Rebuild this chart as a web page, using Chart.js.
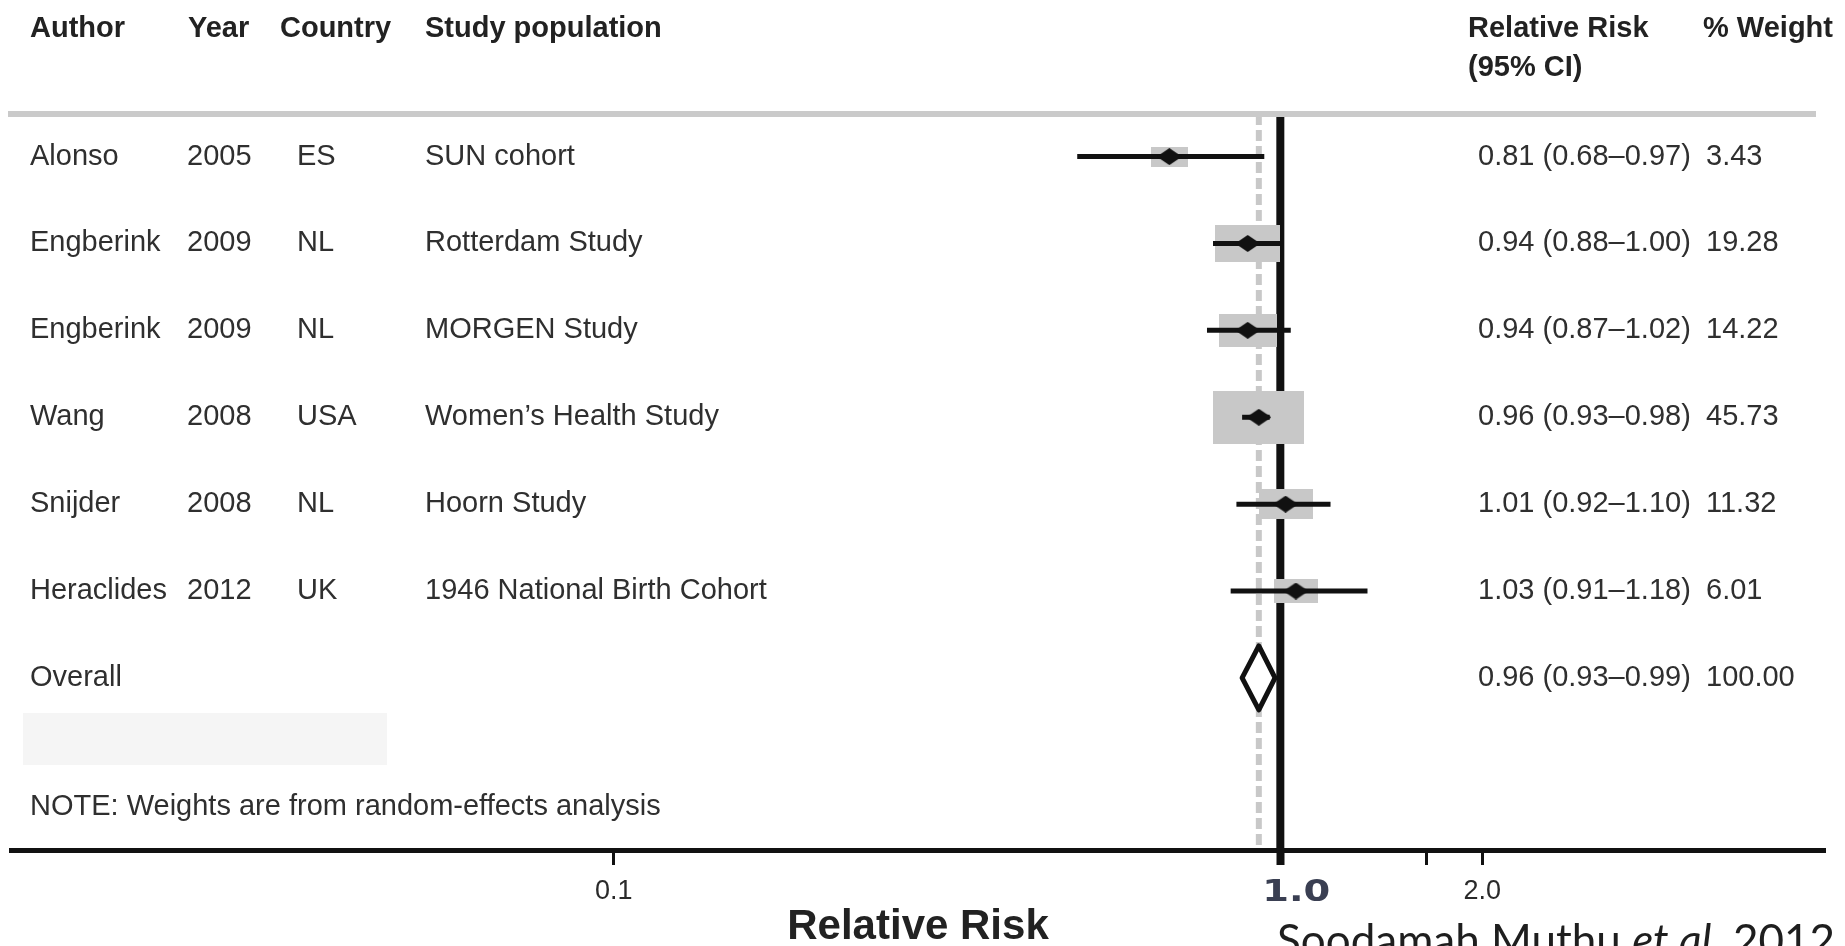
<!DOCTYPE html>
<html>
<head>
<meta charset="utf-8">
<title>Relative risk forest plot</title>
<script src="https://cdn.jsdelivr.net/npm/chart.js@4.4.1/dist/chart.umd.min.js"></script>
<style>
  html, body { margin: 0; padding: 0; background: #fff; overflow: hidden; }
  #wrap { position: relative; width: 1845px; height: 946px; }
</style>
</head>
<body>
<div id="wrap"><canvas id="forest"></canvas></div>
<script>
// ---- study data ----
const authors     = ["Alonso", "Engberink", "Engberink", "Wang", "Snijder", "Heraclides"];
const years       = ["2005", "2009", "2009", "2008", "2008", "2012"];
const countries   = ["ES", "NL", "NL", "USA", "NL", "UK"];
const populations = ["SUN cohort", "Rotterdam Study", "MORGEN Study", "Women\u2019s Health Study", "Hoorn Study", "1946 National Birth Cohort"];
const relRisk     = [0.81, 0.94, 0.94, 0.96, 1.01, 1.03];
const ciLower     = [0.68, 0.88, 0.87, 0.93, 0.92, 0.91];
const ciUpper     = [0.97, 1.00, 1.02, 0.98, 1.10, 1.18];
const weights     = [3.43, 19.28, 14.22, 45.73, 11.32, 6.01];

// pooled estimate
const overallLabel  = "Overall";
const overallRR     = 0.96;
const overallLower  = 0.93;
const overallUpper  = 0.99;
const overallWeight = 100.00;

const nullValue = 1.0;

// x axis ticks as they sit in the figure (labels were edited in the original)
const tickValues = [0.282, 1.0, 1.32, 1.467];
const tickLabels = ["0.1", "1.0", "", "2.0"];

const headers = ["Author", "Year", "Country", "Study population", "Relative Risk", "(95% CI)", "% Weight"];
const noteText = "NOTE: Weights are from random-effects analysis";
const axisTitle = "Relative Risk";
const creditParts = ["Soodamah Muthu ", "et al.", " 2012"];

// ---- helpers ----
const SANS = '"Liberation Sans", Arial, Helvetica, sans-serif';
const NARROW = '"Liberation Sans Narrow", "Liberation Sans", Arial, sans-serif';
const CREDIT = 'Lato, "Open Sans", sans-serif';
const ink = "#2f2f2f";

const rows = relRisk.map((_, i) => i + 1);
const overallRow = rows.length + 1;

function boxImage(w) {
    const s = Math.sqrt(w);
    const bw = Math.round(16.6 + 11 * s);
    const bh = Math.round(8 + 6.6 * s);
    const c = document.createElement("canvas");
    c.width = bw;
    c.height = bh;
    const g = c.getContext("2d");
    g.fillStyle = "#c8c8c8";
    g.fillRect(0, 0, bw, bh);
    return c;
}

function diamondImage(w, h) {
    const c = document.createElement("canvas");
    c.width = w;
    c.height = h;
    const g = c.getContext("2d");
    g.fillStyle = "#111";
    g.beginPath();
    g.moveTo(0, h / 2);
    g.lineTo(w / 2, 0);
    g.lineTo(w, h / 2);
    g.lineTo(w / 2, h);
    g.closePath();
    g.fill();
    return c;
}

const pointMark = diamondImage(25, 17);

// ---- table text, separator and pooled diamond ----
const forestTable = {
    id: "forestTable",
    beforeDatasetsDraw(chart) {
        const { ctx } = chart;
        ctx.save();
        ctx.fillStyle = "#f5f5f5";
        ctx.fillRect(23, 713, 364, 52);
        ctx.restore();
    },
    afterDatasetsDraw(chart) {
        const { ctx, scales: { x, y } } = chart;
        ctx.save();

        // header rule
        ctx.fillStyle = "#cacaca";
        ctx.fillRect(8, 111, 1808, 6);

        // pooled diamond
        const cy = y.getPixelForValue(overallRow);
        const xl = x.getPixelForValue(overallLower);
        const xm = x.getPixelForValue(overallRR);
        const xr = x.getPixelForValue(overallUpper);
        ctx.beginPath();
        ctx.moveTo(xl, cy);
        ctx.lineTo(xm, cy - 32);
        ctx.lineTo(xr, cy);
        ctx.lineTo(xm, cy + 32);
        ctx.closePath();
        ctx.fillStyle = "#fff";
        ctx.fill();
        ctx.lineWidth = 5;
        ctx.lineJoin = "round";
        ctx.strokeStyle = "#111";
        ctx.stroke();

        // headers
        ctx.fillStyle = "#222";
        ctx.textAlign = "left";
        ctx.textBaseline = "middle";
        ctx.font = "bold 29px " + SANS;
        ctx.fillText(headers[0], 30, 29);
        ctx.fillText(headers[1], 188, 29);
        ctx.fillText(headers[2], 280, 29);
        ctx.fillText(headers[3], 425, 29);
        ctx.fillText(headers[4], 1468, 29);
        ctx.fillText(headers[5], 1468, 68);
        ctx.fillText(headers[6], 1703, 29);

        // study rows
        ctx.font = "29px " + SANS;
        ctx.fillStyle = ink;
        rows.forEach((r, i) => {
            const py = y.getPixelForValue(r);
            ctx.fillText(authors[i], 30, py);
            ctx.fillText(years[i], 187, py);
            ctx.fillText(countries[i], 297, py);
            ctx.fillText(populations[i], 425, py);
            ctx.fillText(relRisk[i].toFixed(2) + " (" + ciLower[i].toFixed(2) + "\u2013" + ciUpper[i].toFixed(2) + ")", 1478, py);
            ctx.fillText(weights[i].toFixed(2), 1706, py);
        });
        ctx.fillText(overallLabel, 30, cy);
        ctx.fillText(overallRR.toFixed(2) + " (" + overallLower.toFixed(2) + "\u2013" + overallUpper.toFixed(2) + ")", 1478, cy);
        ctx.fillText(overallWeight.toFixed(2), 1706, cy);

        ctx.fillText(noteText, 30, 807);
        ctx.restore();
    },
    afterDraw(chart) {
        const { ctx, scales: { x } } = chart;
        ctx.save();
        // stamped "1.0" label under the null line
        const k = tickValues.indexOf(nullValue);
        const px = x.getPixelForValue(nullValue) + 16;
        ctx.translate(px, 893);
        ctx.scale(1.28, 1);
        ctx.font = "bold 30px \"DejaVu Sans\", sans-serif";
        ctx.fillStyle = "#3a3f52";
        ctx.textAlign = "center";
        ctx.textBaseline = "middle";
        ctx.fillText(tickLabels[k], 0, 0);
        ctx.setTransform(1, 0, 0, 1, 0, 0);

        // credit line
        ctx.fillStyle = "#1e1e1e";
        ctx.textAlign = "left";
        ctx.textBaseline = "alphabetic";
        let cx = 1277;
        creditParts.forEach((t, i) => {
            ctx.font = (i === 1 ? "italic " : "") + "44px " + CREDIT;
            ctx.fillText(t, cx, 956);
            cx += ctx.measureText(t).width;
        });
        ctx.restore();
    }
};

// ---- datasets ----
const ciSets = rows.map((r, i) => ({
    data: [{ x: ciLower[i], y: r }, { x: ciUpper[i], y: r }],
    showLine: true,
    borderColor: "#111",
    borderWidth: 5,
    borderCapStyle: "butt",
    pointRadius: 0,
    order: 1
}));

const yMin = 0.51;
const yMax = 8.98;

new Chart(document.getElementById("forest"), {
    type: "scatter",
    data: {
        datasets: [
            {
                // point estimates
                data: rows.map((r, i) => ({ x: relRisk[i], y: r })),
                pointStyle: pointMark,
                pointRadius: 10,
                order: 0
            },
            ...ciSets,
            {
                // study weight boxes
                data: rows.map((r, i) => ({ x: relRisk[i], y: r })),
                pointStyle: weights.map(boxImage),
                pointRadius: 10,
                order: 2
            },
            {
                // line of no effect
                data: [{ x: nullValue, y: yMin }, { x: nullValue, y: yMax }],
                showLine: true,
                borderColor: "#111",
                borderWidth: 8,
                pointRadius: 0,
                order: 3
            },
            {
                // pooled estimate reference
                data: [{ x: overallRR, y: yMin }, { x: overallRR, y: yMax }],
                showLine: true,
                borderColor: "#c8c8c8",
                borderWidth: 6,
                borderDash: [11, 5],
                pointRadius: 0,
                order: 4
            }
        ]
    },
    options: {
        responsive: true,
        maintainAspectRatio: false,
        animation: false,
        layout: {
            padding: { top: 114, left: 0, right: 20, bottom: 0 }
        },
        plugins: {
            legend: { display: false },
            tooltip: { enabled: false }
        },
        scales: {
            x: {
                type: "logarithmic",
                min: 0.08979,
                max: 2.813,
                bounds: "data",
                afterBuildTicks: (scale) => {
                    scale.ticks = tickValues.map(v => ({ value: v }));
                },
                afterFit: (scale) => {
                    scale.height = 96;
                },
                border: { display: true, color: "#111", width: 5 },
                grid: {
                    display: true,
                    drawOnChartArea: false,
                    drawTicks: true,
                    tickLength: 15,
                    tickColor: "#111",
                    tickWidth: (c) => (c.tick && c.tick.value === nullValue ? 8 : 3)
                },
                ticks: {
                    autoSkip: false,
                    maxRotation: 0,
                    padding: 10,
                    color: "#2a2a2a",
                    font: { family: NARROW, size: 27 },
                    callback: (value, index) => (value === nullValue ? "" : tickLabels[index])
                },
                title: {
                    display: true,
                    text: axisTitle,
                    color: "#222",
                    font: { family: SANS, size: 42, weight: "bold", lineHeight: 0.9 },
                    padding: { top: 0, bottom: 0 }
                }
            },
            y: {
                type: "linear",
                display: false,
                reverse: true,
                min: yMin,
                max: yMax
            }
        }
    },
    plugins: [forestTable]
});
</script>
</body>
</html>
